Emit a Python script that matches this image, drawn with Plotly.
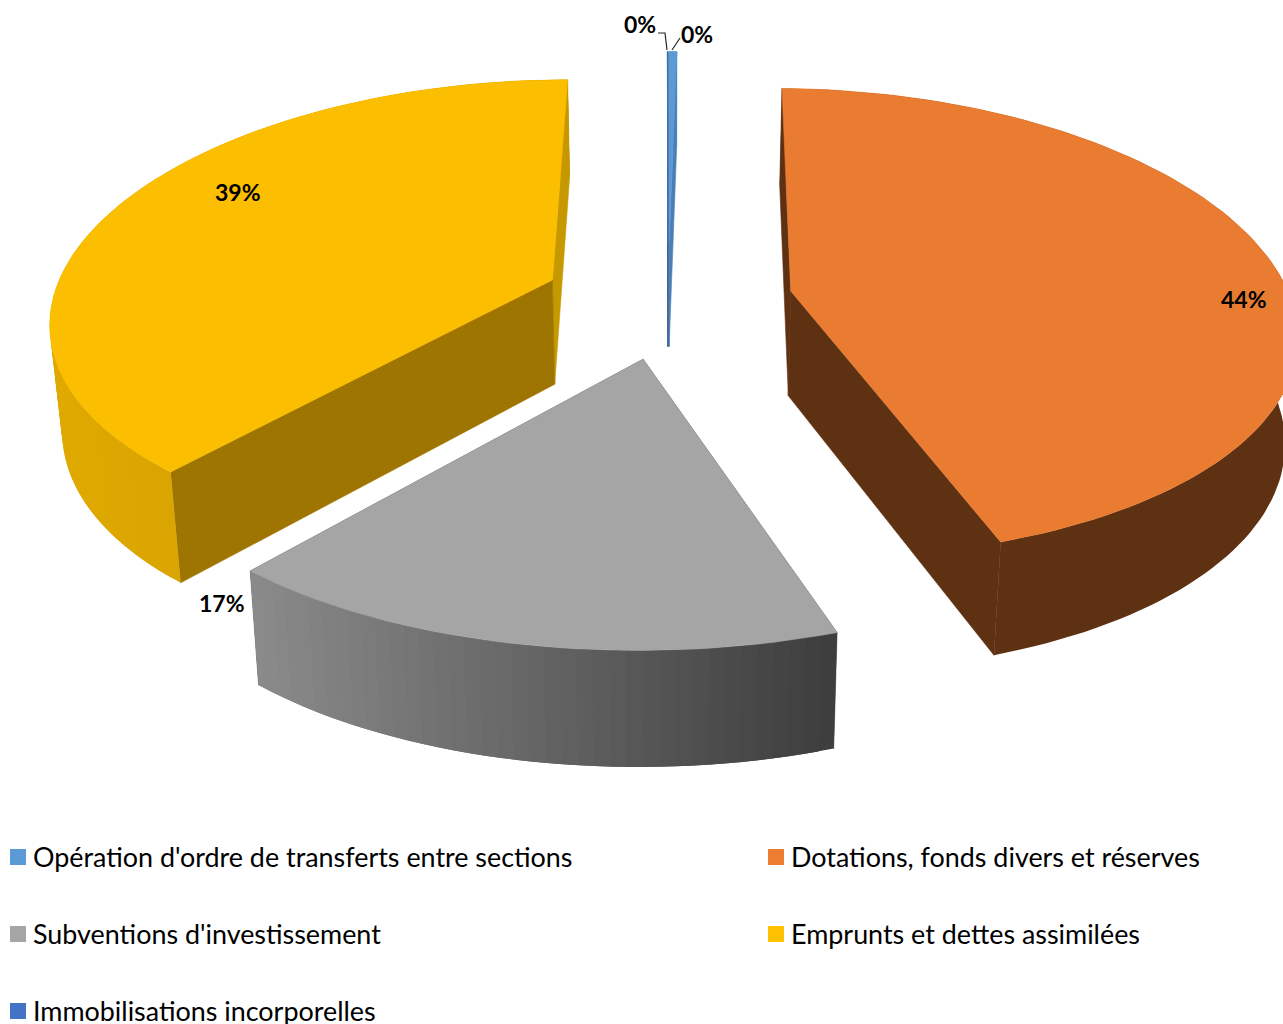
import math
import plotly.graph_objects as go

# ---- data ----
categories = ["Opération d'ordre de transferts entre sections",
              "Dotations, fonds divers et réserves",
              "Subventions d'investissement",
              "Emprunts et dettes assimilées",
              "Immobilisations incorporelles"]
values = [0.3, 44.49, 16.55, 38.64, 0.02]

# ---- styles ----
top_colors = ["#5b9bd5", "#ea7c32", "#a5a5a5", "#fbbe00", "#4472c4"]
legend_colors = ["#5b9bd5", "#ed7d31", "#a5a5a5", "#ffc000", "#4472c4"]
wall_start = ["#4a7fb5", "#5f3113", "#5a5a5a", "#9e7500", "#2a4a80"]
wall_end = ["#4a7fb5", "#5f3113", "#5a5a5a", "#c79900", "#2a4a80"]
outer_grad = [("#4a7fb5", "#4a7fb5"), ("#5f3113", "#5f3113"), ("#8c8c8c", "#3e3e3e"),
              ("#e0aa00", "#c79700"), ("#2a4a80", "#2a4a80")]
FONT = "Lato"

# ---- projection of the tilted pie ----
CX, CY = 668, 300
R, A, D = 500, 233, 105
KX, KY, KZ, BX = 0.16, 0.138, 0.08, 0.02
EXPLODE = 0.25


def project(u, v, z):
    x = CX + R * u / (1 - KX * v) * (1 - BX * z)
    y = CY + A * v / (1 - KY * v) + D * z / (1 - KZ * v)
    return x, y


def hexrgb(c):
    return tuple(int(c[i:i + 2], 16) for i in (1, 3, 5))


def mix(c1, c2, t):
    a, b = hexrgb(c1), hexrgb(c2)
    return "rgb(%d,%d,%d)" % tuple(a[i] + (b[i] - a[i]) * t for i in range(3))


fig = go.Figure()


def poly(pts, color, name=None, width=0.6):
    fig.add_trace(go.Scatter(x=[p[0] for p in pts] + [pts[0][0]],
                             y=[p[1] for p in pts] + [pts[0][1]],
                             mode="lines", fill="toself", fillcolor=color,
                             line=dict(color=color, width=width),
                             hoverinfo="skip" if name is None else "name",
                             name=name or "", showlegend=False))


def band(points, color):
    """Outer wall between consecutive arc points: top edge, then bottom edge reversed."""
    poly([project(*p, 0) for p in points] + [project(*p, 1) for p in reversed(points)], color, width=0)


total = sum(values)
angle = 0.0
for i, val in enumerate(values):
    sweep = val / total * 2 * math.pi
    a0, a1 = angle, angle + sweep
    angle = a1
    mid = (a0 + a1) / 2
    ou, ov = EXPLODE * math.sin(mid), -EXPLODE * math.cos(mid)
    n = max(2, int(sweep / math.radians(1.5)))
    arc = [(ou + math.sin(a0 + sweep * k / n), ov - math.cos(a0 + sweep * k / n)) for k in range(n + 1)]
    # radial walls
    poly([project(ou, ov, 0), project(*arc[-1], 0), project(*arc[-1], 1), project(ou, ov, 1)], wall_end[i])
    poly([project(ou, ov, 0), project(*arc[0], 0), project(*arc[0], 1), project(ou, ov, 1)], wall_start[i])
    # outer wall: overlapping strips carry the gradient without seams
    c0, c1 = outer_grad[i]
    if c0 == c1:
        band(arc, c0)
    else:
        xs = [project(*p, 0)[0] for p in arc]
        xmin, xmax = min(xs), max(xs)
        for k in range(n):
            t = (xs[k] - xmin) / (xmax - xmin)
            band(arc[k:k + 3], mix(c0, c1, t))
    # top face
    poly([project(ou, ov, 0)] + [project(*p, 0) for p in arc], top_colors[i], categories[i])

# ---- data labels ----
label_pos = [(697, 34), (1244, 299), (222, 603), (238, 192), (640, 24)]
annotations = []
for val, (lx, ly) in zip(values, label_pos):
    annotations.append(dict(x=lx, y=ly, xref="x", yref="y", text=f"{round(val)}%", showarrow=False,
                            font=dict(family=FONT, size=23, color="#000000", weight="bold"),
                            xanchor="center", yanchor="middle"))

# leader lines of the two small slices
fig.add_trace(go.Scatter(x=[680, 672, None, 658, 665, 667], y=[38, 50, None, 33, 33, 50], mode="lines",
                         line=dict(color="#262626", width=1.2), hoverinfo="skip", showlegend=False))

# ---- legend ----
legend_x = [18, 776, 18, 776, 18]
legend_y = [857, 857, 934, 934, 1011]
fig.add_trace(go.Scatter(x=legend_x, y=legend_y, mode="markers", hoverinfo="skip", showlegend=False,
                         marker=dict(symbol="square", size=16, color=legend_colors, line=dict(width=0))))
for name, lx, ly in zip(categories, legend_x, legend_y):
    annotations.append(dict(x=lx + 13, y=ly - 1, xref="x", yref="y", text=name, showarrow=False,
                            font=dict(family=FONT, size=26.9, color="#000000"),
                            xanchor="left", yanchor="middle"))

fig.update_layout(width=1283, height=1024, margin=dict(l=0, r=0, t=0, b=0),
                  paper_bgcolor="white", plot_bgcolor="white", annotations=annotations,
                  xaxis=dict(range=[0, 1283], visible=False, fixedrange=True),
                  yaxis=dict(range=[1024, 0], visible=False, fixedrange=True))
fig.write_html("out.html", config={"displayModeBar": False},
               post_script="document.body.style.margin='0';document.body.style.overflow='hidden';")
